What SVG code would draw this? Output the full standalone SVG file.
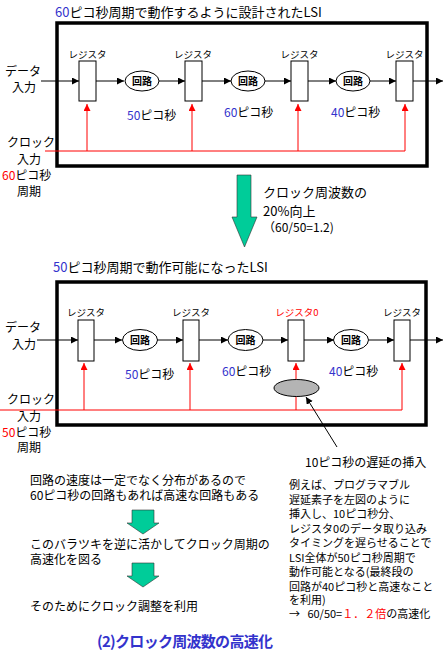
<svg xmlns="http://www.w3.org/2000/svg" width="445" height="651" viewBox="0 0 445 651">
<style>
text{font-family:"Noto Sans CJK JP","Noto Sans",sans-serif;fill:#000}
.t13{font-size:13px}
.t12{font-size:12px}
.t11{font-size:11px}
.reglab{font-size:9.5px}
.circ{font-size:10px;font-weight:bold}
.blue{fill:#3333cc}
.red{fill:#ff0000}
.frame{fill:#fff;stroke:#000;stroke-width:3.5}
.reg{fill:#fff;stroke:#000;stroke-width:1}
.ell{fill:#fff;stroke:#000;stroke-width:1}
.dl{stroke:#000;stroke-width:1;fill:none;marker-end:url(#ab)}
.cl{stroke:#ff0000;stroke-width:1;fill:none}
.ca{stroke:#ff0000;stroke-width:1;fill:none;marker-end:url(#ar)}
.garrow{fill:#00cc99;stroke:#333;stroke-width:0.6}
</style>
<defs>
<marker id="ab" markerUnits="userSpaceOnUse" markerWidth="8" markerHeight="8" refX="7" refY="3.5" orient="auto"><path d="M0,0 L7,3.5 L0,7 z" fill="#000"/></marker>
<marker id="ar" markerUnits="userSpaceOnUse" markerWidth="8" markerHeight="8" refX="7" refY="3.5" orient="auto"><path d="M0,0 L7,3.5 L0,7 z" fill="#ff0000"/></marker>
</defs>
<rect width="445" height="651" fill="#fff"/>

<!-- Top section -->
<text id="title1" class="t13" x="55" y="17"><tspan class="blue">60</tspan>ピコ秒周期で動作するように設計されたLSI</text>
<g id="frame1"><rect class="frame" x="57" y="23" width="370" height="143"/></g>

<g id="connectors1">
<line class="dl" x1="41" y1="81" x2="79" y2="81"/>
<line class="dl" x1="96" y1="81" x2="124" y2="81"/>
<line class="dl" x1="159" y1="81" x2="185" y2="81"/>
<line class="dl" x1="202" y1="81" x2="231" y2="81"/>
<line class="dl" x1="265" y1="81" x2="291" y2="81"/>
<line class="dl" x1="308" y1="81" x2="336" y2="81"/>
<line class="dl" x1="370" y1="81" x2="396" y2="81"/>
<line class="dl" x1="413" y1="81" x2="443" y2="81"/>
<line class="cl" x1="45" y1="151" x2="405" y2="151"/>
<line class="ca" x1="87" y1="151" x2="87" y2="104"/>
<line class="ca" x1="192" y1="151" x2="192" y2="104"/>
<line class="ca" x1="298" y1="151" x2="298" y2="104"/>
<line class="ca" x1="405" y1="151" x2="405" y2="104"/>
</g>

<g id="reg1a"><text class="reglab" x="87.5" y="58" text-anchor="middle">レジスタ</text><rect class="reg" x="79" y="61" width="17" height="40"/></g>
<g id="reg2a"><text class="reglab" x="193" y="58" text-anchor="middle">レジスタ</text><rect class="reg" x="185" y="61" width="17" height="40"/></g>
<g id="reg3a"><text class="reglab" x="299.5" y="58" text-anchor="middle">レジスタ</text><rect class="reg" x="291" y="61" width="17" height="40"/></g>
<g id="reg4a"><text class="reglab" x="404.5" y="58" text-anchor="middle">レジスタ</text><rect class="reg" x="396" y="61" width="17" height="40"/></g>

<g id="circ1a"><ellipse class="ell" cx="142" cy="81" rx="17" ry="10"/><text class="circ" x="142" y="85" text-anchor="middle">回路</text></g>
<g id="circ2a"><ellipse class="ell" cx="248" cy="81" rx="17" ry="10"/><text class="circ" x="248" y="85" text-anchor="middle">回路</text></g>
<g id="circ3a"><ellipse class="ell" cx="353" cy="81" rx="17" ry="10"/><text class="circ" x="353" y="85" text-anchor="middle">回路</text></g>

<text class="t12" x="127" y="120"><tspan class="blue">50</tspan>ピコ秒</text>
<text class="t12" x="224" y="117"><tspan class="blue">60</tspan>ピコ秒</text>
<text class="t12" x="331" y="117"><tspan class="blue">40</tspan>ピコ秒</text>

<text class="t12" x="5" y="76">データ</text>
<text class="t12" x="12" y="92">入力</text>
<text class="t12" x="7" y="147">クロック</text>
<text class="t12" x="17" y="164">入力</text>
<text class="t12" x="2" y="180"><tspan class="red">60</tspan>ピコ秒</text>
<text class="t12" x="17" y="196">周期</text>

<!-- Big green arrow -->
<g id="bigarrow"><polygon class="garrow" points="237,175 251,175 251,217 257,217 244.5,247 232,217 237,217"/></g>
<text class="t13" x="263" y="197">クロック周波数の</text>
<text class="t13" x="263" y="216">20%向上</text>
<text class="t12" x="263" y="232">（60/50=1.2)</text>

<!-- Bottom section -->
<text id="title2" class="t13" x="53" y="272"><tspan class="blue">50</tspan>ピコ秒周期で動作可能になったLSI</text>
<g id="frame2"><rect class="frame" x="57" y="282" width="369" height="143"/></g>

<g id="connectors2">
<line class="dl" x1="37" y1="340" x2="78" y2="340"/>
<line class="dl" x1="94" y1="340" x2="122" y2="340"/>
<line class="dl" x1="157" y1="340" x2="183" y2="340"/>
<line class="dl" x1="199" y1="340" x2="228" y2="340"/>
<line class="dl" x1="263" y1="340" x2="288" y2="340"/>
<line class="dl" x1="304" y1="340" x2="334" y2="340"/>
<line class="dl" x1="369" y1="340" x2="394" y2="340"/>
<line class="dl" x1="410" y1="340" x2="443" y2="340"/>
<line class="cl" x1="0" y1="410" x2="402" y2="410"/>
<line class="ca" x1="84" y1="410" x2="84" y2="363"/>
<line class="ca" x1="190" y1="410" x2="190" y2="363"/>
<line class="ca" x1="296" y1="410" x2="296" y2="363"/>
<line class="ca" x1="402" y1="410" x2="402" y2="363"/>
<line class="dl" x1="337" y1="447" x2="306" y2="397"/>
</g>

<g id="reg1b"><text class="reglab" x="86" y="316" text-anchor="middle">レジスタ</text><rect class="reg" x="78" y="320" width="16" height="41"/></g>
<g id="reg2b"><text class="reglab" x="191" y="316" text-anchor="middle">レジスタ</text><rect class="reg" x="183" y="320" width="16" height="41"/></g>
<g id="reg3b"><text class="reglab red" x="297" y="316" text-anchor="middle">レジスタ0</text><rect class="reg" x="288" y="320" width="16" height="41"/></g>
<g id="reg4b"><text class="reglab" x="402" y="316" text-anchor="middle">レジスタ</text><rect class="reg" x="394" y="320" width="16" height="41"/></g>

<g id="circ1b"><ellipse class="ell" cx="140" cy="340" rx="17.5" ry="10.5"/><text class="circ" x="140" y="344" text-anchor="middle">回路</text></g>
<g id="circ2b"><ellipse class="ell" cx="245.5" cy="340" rx="17.5" ry="10.5"/><text class="circ" x="245.5" y="344" text-anchor="middle">回路</text></g>
<g id="circ3b"><ellipse class="ell" cx="351" cy="340" rx="17.5" ry="10.5"/><text class="circ" x="351" y="344" text-anchor="middle">回路</text></g>

<g id="delay"><ellipse cx="296.5" cy="388" rx="22.5" ry="8.5" fill="#b4b4b4" stroke="#000" stroke-width="1"/></g>

<text class="t12" x="125" y="379"><tspan class="blue">50</tspan>ピコ秒</text>
<text class="t12" x="222" y="376"><tspan class="blue">60</tspan>ピコ秒</text>
<text class="t12" x="329" y="376"><tspan class="blue">40</tspan>ピコ秒</text>

<text class="t12" x="5" y="332">データ</text>
<text class="t12" x="12" y="349">入力</text>
<text class="t12" x="7" y="404">クロック</text>
<text class="t12" x="17" y="421">入力</text>
<text class="t12" x="2" y="437"><tspan class="red">50</tspan>ピコ秒</text>
<text class="t12" x="17" y="452">周期</text>

<text class="t12" x="305" y="467">10ピコ秒の遅延の挿入</text>

<!-- Lower left explanation -->
<text class="t12" x="30" y="485">回路の速度は一定でなく分布があるので</text>
<text class="t12" x="30" y="500">60ピコ秒の回路もあれば高速な回路もある</text>
<g id="arrow1"><polygon class="garrow" points="132,510 154,510 154,523 159,523 143,534 127,523 132,523"/></g>
<text class="t12" x="30" y="549">このバラツキを逆に活かしてクロック周期の</text>
<text class="t12" x="30" y="564">高速化を図る</text>
<g id="arrow2"><polygon class="garrow" points="132,563 154,563 154,576 159,576 143,587 127,576 132,576"/></g>
<text class="t12" x="30" y="611">そのためにクロック調整を利用</text>

<!-- Right explanation -->
<text class="t11" x="289" y="489">例えば、プログラマブル</text>
<text class="t11" x="289" y="503.5">遅延素子を左図のように</text>
<text class="t11" x="289" y="518">挿入し、10ピコ秒分、</text>
<text class="t11" x="289" y="532.5">レジスタ0のデータ取り込み</text>
<text class="t11" x="289" y="547">タイミングを遅らせることで</text>
<text class="t11" x="289" y="561.5">LSI全体が50ピコ秒周期で</text>
<text class="t11" x="289" y="576">動作可能となる(最終段の</text>
<text class="t11" x="289" y="590.5">回路が40ピコ秒と高速なこと</text>
<text class="t11" x="289" y="604">を利用)</text>
<text class="t11" x="289" y="618">→&#160;&#160;&#160;60/50=<tspan class="red">１．２倍</tspan>の高速化</text>

<text x="97" y="647" font-size="15" font-weight="bold" textLength="176" lengthAdjust="spacing" style="fill:#3333cc">(2)クロック周波数の高速化</text>
</svg>
